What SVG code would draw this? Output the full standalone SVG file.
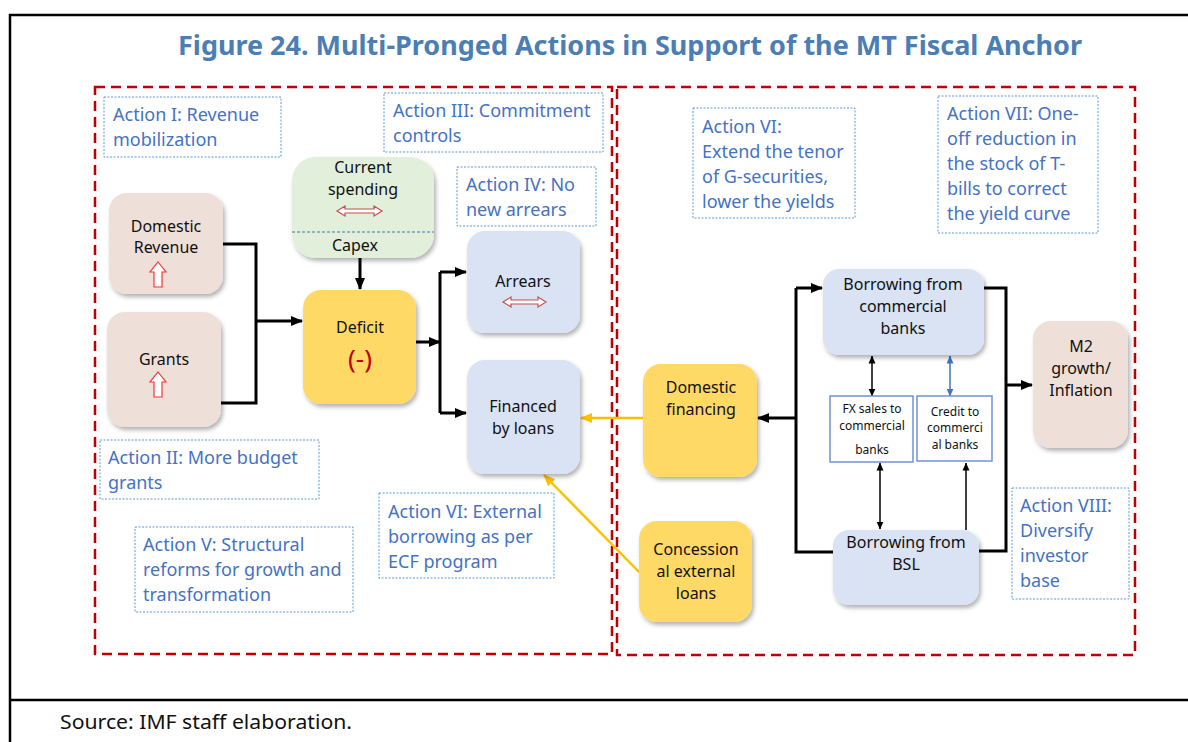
<svg xmlns="http://www.w3.org/2000/svg" width="1188" height="742" viewBox="0 0 1188 742">
<style>
text{font-family:"Noto Sans","Open Sans","Liberation Sans",sans-serif;}
.title{font-size:26px;font-weight:bold;fill:#4A7EB4;}
.act{fill:none;stroke:#5B9BD5;stroke-width:1;stroke-dasharray:2 1.5;}
.at{font-size:18px;fill:#4472C4;}
.nl{font-size:16px;fill:#111;text-anchor:middle;}
.sm{font-size:12px;fill:#111;text-anchor:middle;}
.red{fill:none;stroke:#C00000;stroke-width:2.5;stroke-dasharray:10 6;}
.pink{fill:#EFDFD9;}
.green{fill:#E2EFDA;}
.yellow{fill:#FFD966;}
.blue{fill:#DAE3F3;}
.k{fill:none;stroke:#000;stroke-width:3;}
.ka{fill:none;stroke:#000;stroke-width:3;marker-end:url(#ah);}
.ks{fill:none;stroke:#000;stroke-width:1.5;}
.o{fill:none;stroke:#FFC000;stroke-width:2.5;marker-end:url(#ao);}
.hup{fill:#fff;stroke:#FF3333;stroke-width:1.2;}
.hdbl{fill:#fff;stroke:#C0504D;stroke-width:1.2;}
</style>
<defs>
<filter id="sh" x="-10%" y="-10%" width="130%" height="130%">
<feDropShadow dx="2" dy="3" stdDeviation="2" flood-color="#000" flood-opacity="0.3"/>
</filter>
<marker id="ah" markerUnits="userSpaceOnUse" markerWidth="12" markerHeight="12" viewBox="0 0 12 12" refX="11" refY="6" orient="auto">
<path d="M0,1 L12,6 L0,11 Z" fill="#000"/>
</marker>
<marker id="ao" markerUnits="userSpaceOnUse" markerWidth="12" markerHeight="12" viewBox="0 0 12 12" refX="11" refY="6" orient="auto">
<path d="M0,1 L12,6 L0,11 Z" fill="#FFC000"/>
</marker>
<marker id="sk" markerUnits="userSpaceOnUse" markerWidth="8" markerHeight="8" viewBox="0 0 8 8" refX="7.5" refY="4" orient="auto-start-reverse">
<path d="M0,0.5 L8,4 L0,7.5 Z" fill="#000"/>
</marker>
<marker id="sb" markerUnits="userSpaceOnUse" markerWidth="8" markerHeight="8" viewBox="0 0 8 8" refX="7.5" refY="4" orient="auto-start-reverse">
<path d="M0,0.5 L8,4 L0,7.5 Z" fill="#4472C4"/>
</marker>
<path id="up" d="M0,0 L8,10 L4,10 L4,25 L-4,25 L-4,10 L-8,10 Z"/>
</defs>

<rect width="1188" height="742" fill="#fff"/>
<g id="frame">
<path d="M10,742 L10,15 L1188,15" fill="none" stroke="#000" stroke-width="2.5"/>
<path d="M10,700 L1188,700" fill="none" stroke="#000" stroke-width="2.5"/>
<text class="title" x="630" y="55" text-anchor="middle" textLength="904" lengthAdjust="spacingAndGlyphs">Figure 24. Multi-Pronged Actions in Support of the MT Fiscal Anchor</text>
<text x="60" y="729" font-size="19" fill="#111" textLength="292" lengthAdjust="spacingAndGlyphs">Source: IMF staff elaboration.</text>
</g>

<g id="regions">
<rect class="red" x="95" y="87" width="517" height="567"/>
<rect class="red" x="617" y="87" width="518" height="568"/>
</g>

<g id="actions">
<g id="action1"><rect class="act" x="104" y="97" width="177" height="60"/>
<text class="at" x="113" y="121">Action I: Revenue</text><text class="at" x="113" y="146">mobilization</text></g>
<g id="action3"><rect class="act" x="384" y="93" width="219" height="59"/>
<text class="at" x="393" y="117">Action III: Commitment</text><text class="at" x="393" y="142">controls</text></g>
<g id="action4"><rect class="act" x="457" y="167" width="139" height="59"/>
<text class="at" x="466" y="191">Action IV: No</text><text class="at" x="466" y="216">new arrears</text></g>
<g id="action2"><rect class="act" x="100" y="440" width="219" height="59"/>
<text class="at" x="108" y="464">Action II: More budget</text><text class="at" x="108" y="489">grants</text></g>
<g id="action5"><rect class="act" x="135" y="527" width="218" height="85"/>
<text class="at" x="143" y="551">Action V: Structural</text><text class="at" x="143" y="576">reforms for growth and</text><text class="at" x="143" y="601">transformation</text></g>
<g id="action6ext"><rect class="act" x="379" y="493" width="175" height="85"/>
<text class="at" x="388" y="518">Action VI: External</text><text class="at" x="388" y="543">borrowing as per</text><text class="at" x="388" y="568">ECF program</text></g>
<g id="action6"><rect class="act" x="693" y="108" width="162" height="110"/>
<text class="at" x="702" y="133">Action VI:</text><text class="at" x="702" y="158">Extend the tenor</text><text class="at" x="702" y="183">of G-securities,</text><text class="at" x="702" y="208">lower the yields</text></g>
<g id="action7"><rect class="act" x="938" y="96" width="160" height="137"/>
<text class="at" x="947" y="120">Action VII: One-</text><text class="at" x="947" y="145">off reduction in</text><text class="at" x="947" y="170">the stock of T-</text><text class="at" x="947" y="195">bills to correct</text><text class="at" x="947" y="220">the yield curve</text></g>
<g id="action8"><rect class="act" x="1012" y="488" width="117" height="111"/>
<text class="at" x="1020" y="512">Action VIII:</text><text class="at" x="1020" y="537">Diversify</text><text class="at" x="1020" y="562">investor</text><text class="at" x="1020" y="587">base</text></g>
</g>

<g id="connectors">
<path class="k" d="M223,244 L256,244 L256,403 L221,403"/>
<path class="ka" d="M256,321 L302,321"/>
<path class="ka" d="M360,258 L360,289"/>
<path class="ka" d="M416,342 L440,342"/>
<path class="k" d="M440,272 L440,413"/>
<path class="ka" d="M440,272 L466,272"/>
<path class="ka" d="M440,413 L466,413"/>
<path class="o" d="M643,418 L581,418"/>
<path class="o" d="M639,572 L544,475"/>
<path class="k" d="M833,552 L796,552 L796,288"/>
<path class="ka" d="M796,288 L822,288"/>
<path class="ka" d="M796,418 L758,418"/>
<path class="k" d="M984,288 L1006,288 L1006,551 L978,551"/>
<path class="ka" d="M1006,385 L1032,385"/>
<path class="ks" d="M872,356 L872,396" marker-start="url(#sk)" marker-end="url(#sk)"/>
<path class="ks" d="M880,463 L880,529" marker-start="url(#sk)" marker-end="url(#sk)"/>
<path fill="none" stroke="#4472C4" stroke-width="1.5" d="M950,356 L950,396" marker-start="url(#sb)" marker-end="url(#sb)"/>
<path class="ks" d="M966,530 L966,463" marker-end="url(#sk)"/>
</g>

<g id="nodes">
<g id="domestic-revenue"><rect class="pink" filter="url(#sh)" x="109" y="193" width="114" height="101" rx="18"/>
<text class="nl" x="166" y="232">Domestic</text><text class="nl" x="166" y="253">Revenue</text>
<use href="#up" class="hup" x="158" y="262"/></g>
<g id="grants"><rect class="pink" filter="url(#sh)" x="107" y="312" width="114" height="115" rx="18"/>
<text class="nl" x="164" y="365">Grants</text>
<use href="#up" class="hup" x="158" y="372"/></g>
<g id="current-spending"><rect class="green" filter="url(#sh)" x="292" y="157" width="142" height="101" rx="24"/>
<text class="nl" x="363" y="173">Current</text><text class="nl" x="363" y="195">spending</text>
<path class="hdbl" d="M337,211 L345,206 L345,209 L374,209 L374,206 L382,211 L374,216 L374,213 L345,213 L345,216 Z"/>
<path d="M292,232 L434,232" stroke="#4472C4" stroke-width="1" stroke-dasharray="3 2"/>
<text class="nl" x="355" y="251">Capex</text></g>
<g id="deficit"><rect class="yellow" filter="url(#sh)" x="303" y="290" width="113" height="114" rx="18"/>
<text class="nl" x="360" y="333">Deficit</text>
<text x="360" y="368" font-size="26" fill="#C00000" text-anchor="middle">(-)</text></g>
<g id="arrears"><rect class="blue" filter="url(#sh)" x="467" y="231" width="113" height="102" rx="18"/>
<text class="nl" x="523" y="287">Arrears</text>
<path class="hdbl" d="M503,302 L511,297 L511,300 L538,300 L538,297 L546,302 L538,307 L538,304 L511,304 L511,307 Z"/></g>
<g id="financed"><rect class="blue" filter="url(#sh)" x="467" y="360" width="113" height="114" rx="18"/>
<text class="nl" x="523" y="412">Financed</text><text class="nl" x="523" y="434">by loans</text></g>
<g id="domestic-financing"><rect class="yellow" filter="url(#sh)" x="643" y="364" width="114" height="113" rx="18"/>
<text class="nl" x="701" y="393">Domestic</text><text class="nl" x="701" y="415">financing</text></g>
<g id="concessional"><rect class="yellow" filter="url(#sh)" x="639" y="521" width="113" height="101" rx="18"/>
<text class="nl" x="696" y="555">Concession</text><text class="nl" x="696" y="577">al external</text><text class="nl" x="696" y="599">loans</text></g>
<g id="borrowing-commercial"><rect class="blue" filter="url(#sh)" x="823" y="269" width="161" height="86" rx="16"/>
<text class="nl" x="903" y="290">Borrowing from</text><text class="nl" x="903" y="312">commercial</text><text class="nl" x="903" y="334">banks</text></g>
<g id="fx-sales"><rect x="830" y="396" width="83" height="66" fill="#fff" stroke="#6F93D6" stroke-width="1.5"/>
<text class="sm" x="872" y="413">FX sales to</text><text class="sm" x="872" y="430">commercial</text><text class="sm" x="872" y="454">banks</text></g>
<g id="credit"><rect x="917" y="396" width="75" height="65" fill="#fff" stroke="#6F93D6" stroke-width="1.5"/>
<text class="sm" x="955" y="416">Credit to</text><text class="sm" x="955" y="432">commerci</text><text class="sm" x="955" y="449">al banks</text></g>
<g id="borrowing-bsl"><rect class="blue" filter="url(#sh)" x="833" y="530" width="146" height="75" rx="16"/>
<text class="nl" x="906" y="548">Borrowing from</text><text class="nl" x="906" y="570">BSL</text></g>
<g id="m2"><rect class="pink" filter="url(#sh)" x="1033" y="321" width="95" height="127" rx="18"/>
<text class="nl" x="1081" y="352">M2</text><text class="nl" x="1081" y="374">growth/</text><text class="nl" x="1081" y="396">Inflation</text></g>
</g>
</svg>
